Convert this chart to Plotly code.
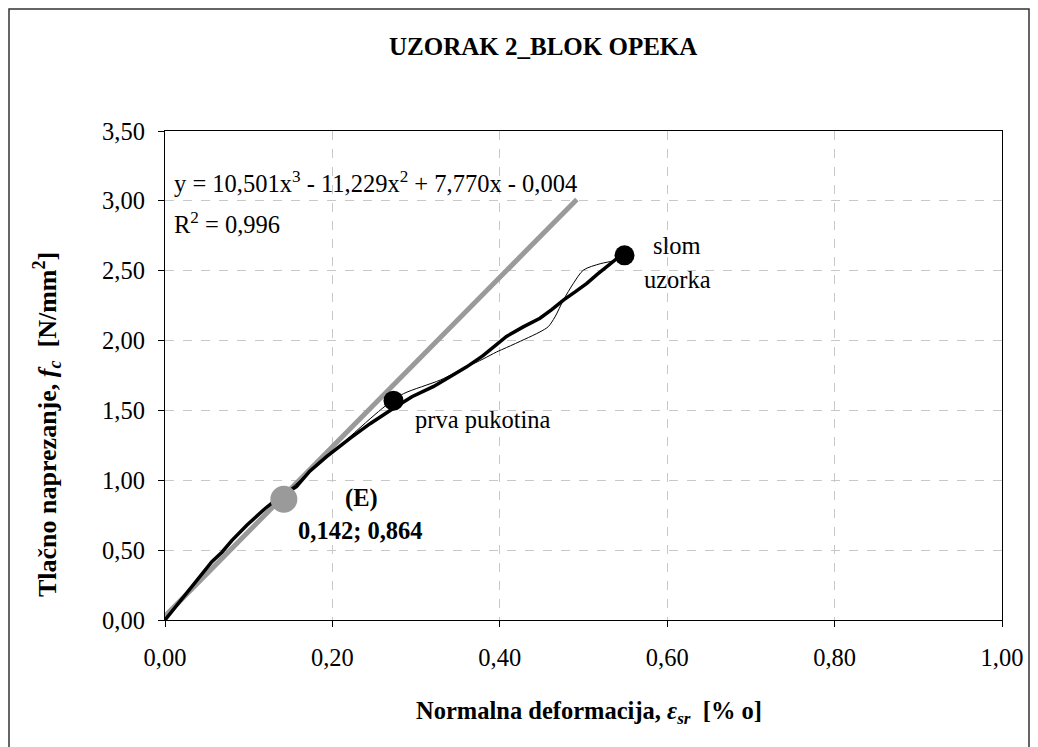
import plotly.graph_objects as go

# ---- data ----
meas_x = [0.000, 0.010, 0.022, 0.035, 0.045, 0.056, 0.068, 0.080, 0.098, 0.110,
          0.120, 0.135, 0.157, 0.173, 0.193, 0.221, 0.245, 0.273, 0.295, 0.321,
          0.340, 0.360, 0.380, 0.396, 0.408, 0.428, 0.448, 0.462, 0.476, 0.490,
          0.504, 0.516, 0.528, 0.540, 0.549]
meas_y = [0.000, 0.075, 0.167, 0.255, 0.335, 0.418, 0.485, 0.570, 0.680, 0.745,
          0.800, 0.872, 0.954, 1.065, 1.169, 1.300, 1.405, 1.515, 1.598, 1.672,
          1.742, 1.810, 1.892, 1.968, 2.030, 2.098, 2.160, 2.222, 2.290, 2.348,
          2.410, 2.472, 2.530, 2.588, 2.610]

smooth_x = [0.000, 0.050, 0.100, 0.150, 0.200, 0.221, 0.245, 0.265, 0.285, 0.329,
            0.360, 0.380, 0.396, 0.408, 0.430, 0.448, 0.458, 0.466, 0.476, 0.488,
            0.500, 0.520, 0.536, 0.549]
smooth_y = [0.000, 0.370, 0.690, 0.940, 1.200, 1.312, 1.440, 1.540, 1.620, 1.718,
            1.810, 1.868, 1.918, 1.950, 2.010, 2.062, 2.100, 2.170, 2.290, 2.410,
            2.505, 2.550, 2.572, 2.610]

modulus_x = [-0.014, 0.492]
modulus_y = [-0.057, 3.010]

e_point = (0.142, 0.864)
crack_point = (0.273, 1.570)
failure_point = (0.549, 2.610)

x_ticks = [0.0, 0.2, 0.4, 0.6, 0.8, 1.0]
y_ticks = [0.0, 0.5, 1.0, 1.5, 2.0, 2.5, 3.0, 3.5]

title_text = "UZORAK 2_BLOK OPEKA"
equation_text = "y = 10,501x<sup>3</sup> - 11,229x<sup>2</sup> + 7,770x - 0,004"
r2_text = "R<sup>2</sup> = 0,996"

FONT = "Liberation Serif, Times New Roman, serif"
FS = 24.5

fig = go.Figure()

fig.add_trace(go.Scatter(x=modulus_x, y=modulus_y, mode="lines",
                         line=dict(color="#9a9a9a", width=5), showlegend=False,
                         hoverinfo="skip"))
fig.add_trace(go.Scatter(x=smooth_x, y=smooth_y, mode="lines",
                         line=dict(color="black", width=1, shape="spline", smoothing=0.8),
                         showlegend=False, hoverinfo="skip"))
fig.add_trace(go.Scatter(x=meas_x, y=meas_y, mode="lines",
                         line=dict(color="black", width=3.5),
                         showlegend=False))
fig.add_trace(go.Scatter(x=[e_point[0]], y=[e_point[1]], mode="markers",
                         marker=dict(color="#9a9a9a", size=27), showlegend=False))
fig.add_trace(go.Scatter(x=[crack_point[0], failure_point[0]],
                         y=[crack_point[1], failure_point[1]], mode="markers",
                         marker=dict(color="black", size=20), showlegend=False))

ann_font = dict(family=FONT, size=FS, color="black")
annotations = [
    dict(x=0.008, y=3.135, text=equation_text, xanchor="left", yanchor="middle"),
    dict(x=0.008, y=2.842, text=r2_text, xanchor="left", yanchor="middle"),
    dict(x=0.612, y=2.684, text="slom", xanchor="center", yanchor="middle"),
    dict(x=0.612, y=2.434, text="uzorka", xanchor="center", yanchor="middle"),
    dict(x=0.380, y=1.432, text="prva pukotina", xanchor="center", yanchor="middle"),
    dict(x=0.235, y=0.873, text="<b>(E)</b>", xanchor="center", yanchor="middle"),
    dict(x=0.233, y=0.644, text="<b>0,142; 0,864</b>", xanchor="center", yanchor="middle"),
]
for a in annotations:
    fig.add_annotation(xref="x", yref="y", showarrow=False, font=ann_font, **a)

# page layout (page pixel coordinates; the page body has an 8 px margin)
OFF = 8
W, H = 1030, 739
PL, PR, PT, PB = 165, 1002, 131, 620          # plot area edges on the page
L, T = PL - OFF, PT - OFF
R = W - (PR - OFF)
B = H - (PB - OFF)
pw, ph = W - L - R, H - T - B

def px(xp):
    return (xp - PL) / pw

def py(yp):
    return (PB - yp) / ph

fig.add_annotation(xref="paper", yref="paper", x=px(543), y=py(46), showarrow=False,
                   text="<b>" + title_text + "</b>", font=dict(family=FONT, size=25, color="black"),
                   xanchor="center", yanchor="middle")
fig.add_annotation(xref="paper", yref="paper", x=px(589), y=py(712), showarrow=False,
                   text="<b>Normalna deformacija, <i>ε<sub>sr</sub></i>  [% o]</b>",
                   font=dict(family=FONT, size=FS, color="black"),
                   xanchor="center", yanchor="middle")
fig.add_annotation(xref="paper", yref="paper", x=px(47), y=py(425), showarrow=False,
                   text="<b>Tlačno naprezanje, <i>f<sub>c</sub></i>  [N/mm<sup>2</sup>]</b>",
                   font=dict(family=FONT, size=26, color="black"), textangle=-90,
                   xanchor="center", yanchor="middle")

# outer chart border
fig.add_shape(type="rect", xref="paper", yref="paper",
              x0=px(9), x1=px(1029), y0=py(770), y1=py(9),
              line=dict(color="#333333", width=1.5), fillcolor="rgba(0,0,0,0)", layer="below")

axis_common = dict(showline=True, mirror=True, linecolor="black", linewidth=1.3,
                   ticks="outside", ticklen=6, tickcolor="black", tickwidth=1,
                   showgrid=True, gridcolor="#c8c8c8", griddash="dash", gridwidth=1,
                   zeroline=False, tickformat=".2f",
                   tickfont=dict(family=FONT, size=FS, color="black"))

fig.update_xaxes(range=[0, 1], tickvals=x_ticks, ticklabelstandoff=9, **axis_common)
fig.update_yaxes(range=[0, 3.5], tickvals=y_ticks, ticklabelstandoff=8, **axis_common)

fig.update_layout(width=W, height=H, margin=dict(l=L, r=R, t=T, b=B),
                  paper_bgcolor="white", plot_bgcolor="white", separators=", ",
                  font=dict(family=FONT, color="black"), showlegend=False)

fig.write_html("out.html")
